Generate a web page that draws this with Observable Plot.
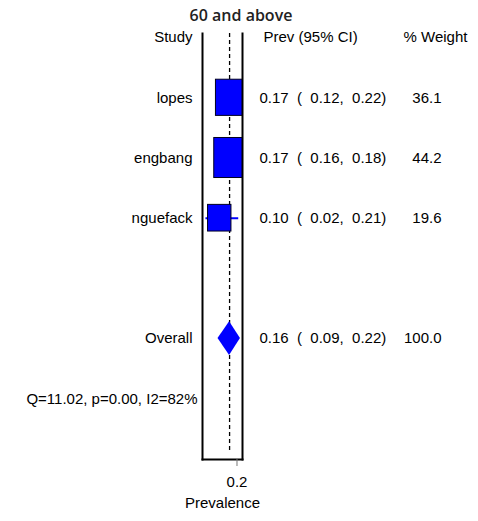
<!DOCTYPE html>
<html>
<head>
<meta charset="utf-8">
<script src="https://cdn.jsdelivr.net/npm/d3@7"></script>
<script src="https://cdn.jsdelivr.net/npm/@observablehq/plot@0.6"></script>
<style>
  html, body { margin: 0; padding: 0; background: #fff; }
  svg text { white-space: pre; }
</style>
</head>
<body>
<div id="chart"></div>
<script>
// ---- data ----
const title = "60 and above";
const studies = ["lopes", "engbang", "nguefack"];
const es = [0.17, 0.17, 0.10];
const lci = [0.12, 0.16, 0.02];
const uci = [0.22, 0.18, 0.21];
const weights = [36.1, 44.2, 19.6];
const overallLabel = "Overall";
const overallEs = 0.157;   // shown as 0.16
const overallLci = 0.09;
const overallUci = 0.22;
const overallWeight = 100.0;
const hetText = "Q=11.02, p=0.00, I2=82%";
const headers = ["Study", "Prev (95% CI)", "% Weight"];
const xTicks = [0.2];
const xLabel = "Prevalence";

// ---- layout helpers ----
const fmt = v => v.toFixed(2);
const ciText = (e, l, u) => `${fmt(e)}  (  ${fmt(l)},  ${fmt(u)})`;

const rows = studies.map((s, i) => ({
  row: i, study: s, es: es[i], lci: lci[i], uci: uci[i], w: weights[i],
  ci: ciText(es[i], lci[i], uci[i]), wt: weights[i].toFixed(1)
}));
const overallRow = 4, hetRow = 5, headerRow = -1;
const overall = {row: overallRow, study: overallLabel, es: overallEs, lci: overallLci, uci: overallUci,
  ci: ciText(overallEs, overallLci, overallUci), wt: overallWeight.toFixed(1)};
const labelRows = [...rows, overall];

const boxX = 0.01532, boxY = 0.05, diaH = 0.28;
const diamond = [
  {y: overall.row - diaH, x1: overall.es, x2: overall.es},
  {y: overall.row, x1: overall.lci, x2: overall.uci},
  {y: overall.row + diaH, x1: overall.es, x2: overall.es}
];

const FONT = "Liberation Sans, Arial, sans-serif";
const BLUE = "#0000ff";

const chart = Plot.plot({
  width: 478,
  height: 521,
  marginLeft: 202,
  marginRight: 236,
  marginTop: 33,
  marginBottom: 62,
  style: {fontFamily: FONT, fontSize: "15px", color: "#000", background: "#fff", overflow: "visible"},
  x: {domain: [0, 0.2319]},
  y: {domain: [-1.068, 6.008], reverse: true, axis: null},
  marks: [
    Plot.ruleX([overall.es], {stroke: "#000", strokeWidth: 1.3, strokeDasharray: "4,3", insetBottom: 6}),
    Plot.ruleY(rows, {y: "row", x1: "lci", x2: "uci", stroke: BLUE, strokeWidth: 2, clip: true}),
    Plot.rect(rows, {
      x1: d => d.es - boxX * Math.sqrt(d.w), x2: d => d.es + boxX * Math.sqrt(d.w),
      y1: d => d.row - boxY * Math.sqrt(d.w), y2: d => d.row + boxY * Math.sqrt(d.w),
      fill: BLUE, stroke: "#000020", strokeWidth: 1, clip: true
    }),
    Plot.areaX(diamond, {y: "y", x1: "x1", x2: "x2", fill: BLUE, curve: "linear"}),
    Plot.frame({anchor: "left", stroke: "#000", strokeWidth: 2}),
    Plot.frame({anchor: "right", stroke: "#000", strokeWidth: 2}),
    Plot.frame({anchor: "bottom", stroke: "#000", strokeWidth: 2}),
    Plot.axisX({ticks: xTicks, tickSize: 7, tickPadding: 10, label: null, stroke: "#777",
      tickFormat: d => String(d), fontSize: 15}),
    Plot.text([xLabel], {frameAnchor: "bottom", dy: 48, fontSize: 15}),
    Plot.text([title], {frameAnchor: "top", dx: 18.5, dy: -24, fontSize: 16, fontWeight: 600,
      fontFamily: "Open Sans, sans-serif", fill: "#222"}),
    Plot.text([headers[0]], {y: () => headerRow, frameAnchor: "left", dx: -10, textAnchor: "end"}),
    Plot.text([headers[1]], {y: () => headerRow, frameAnchor: "right", dx: 21, textAnchor: "start"}),
    Plot.text([headers[2]], {y: () => headerRow, frameAnchor: "right", dx: 161, textAnchor: "start"}),
    Plot.text(labelRows, {y: "row", text: "study", frameAnchor: "left", dx: -10, textAnchor: "end"}),
    Plot.text(labelRows, {y: "row", text: "ci", frameAnchor: "right", dx: 17, textAnchor: "start"}),
    Plot.text(labelRows, {y: "row", text: "wt", frameAnchor: "right", dx: 199, textAnchor: "end"}),
    Plot.text([hetText], {y: () => hetRow, frameAnchor: "left", dx: -5, textAnchor: "end"})
  ]
});
document.getElementById("chart").appendChild(chart);
</script>
</body>
</html>
